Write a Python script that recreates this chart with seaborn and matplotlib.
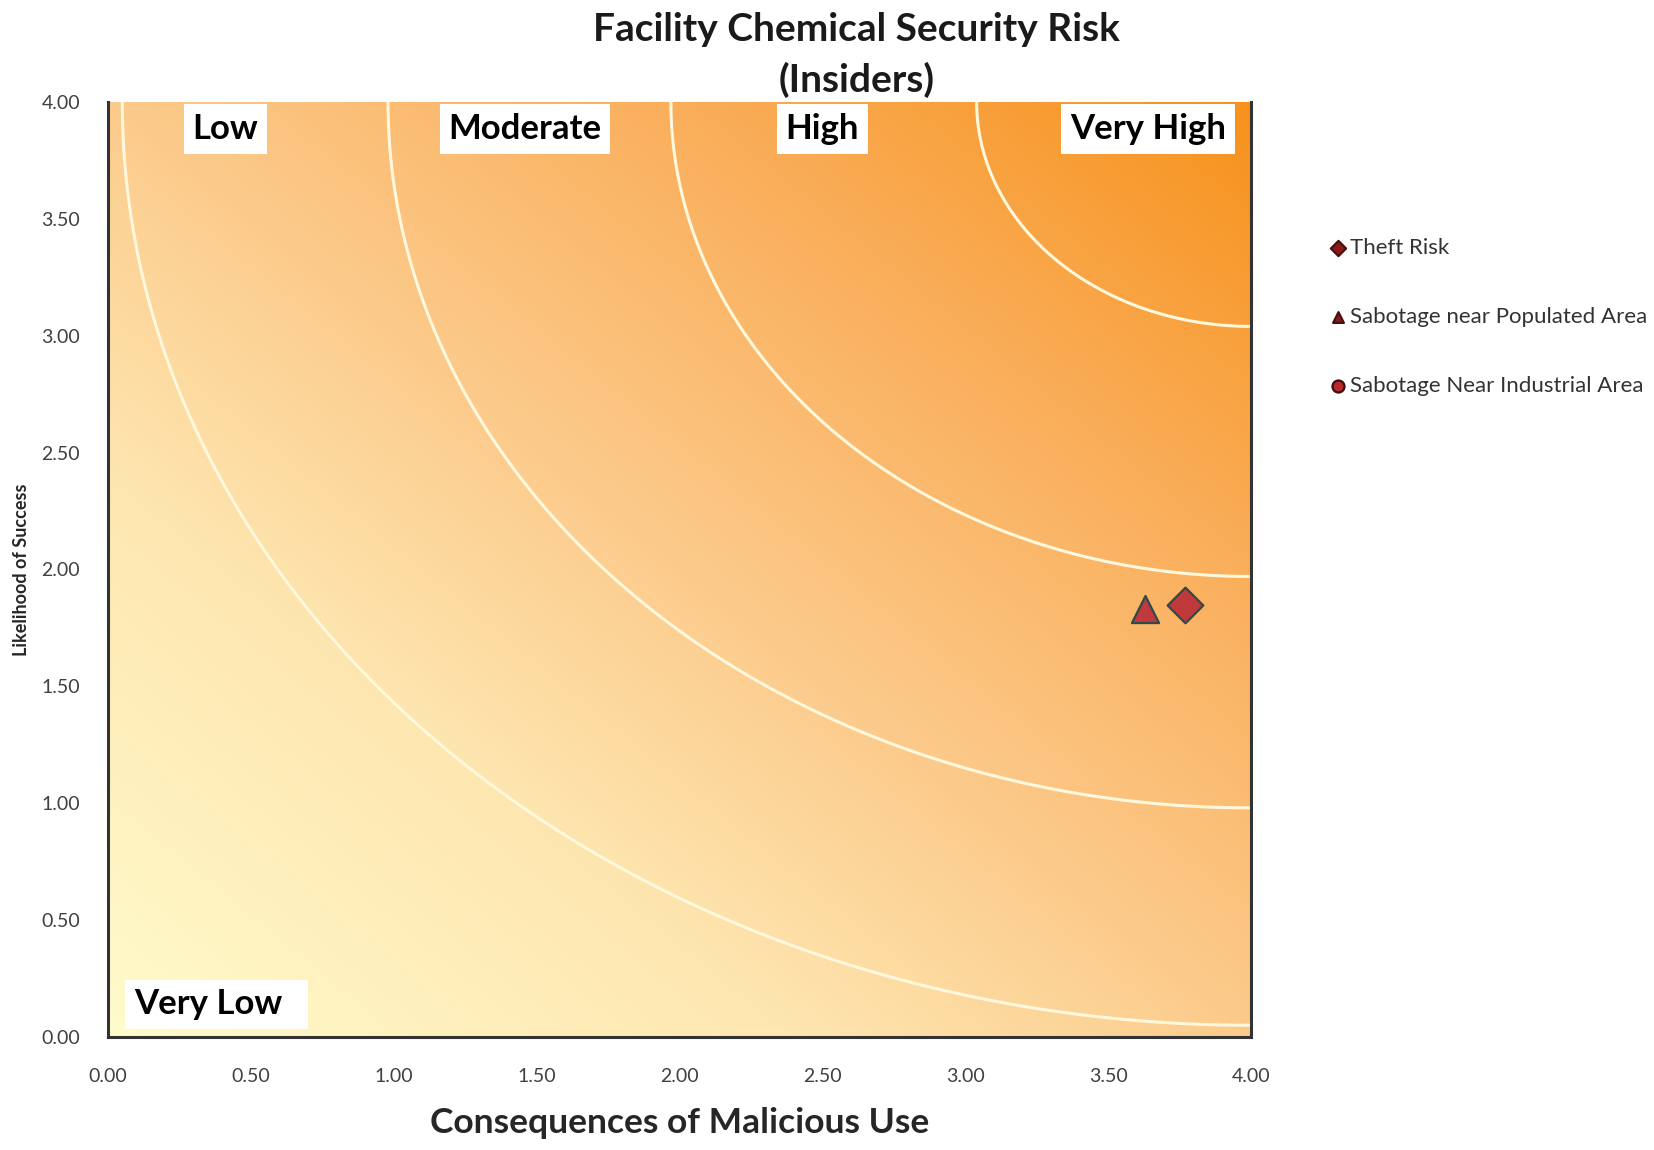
import numpy as np
import pandas as pd
import matplotlib
matplotlib.use("Agg")
import matplotlib.pyplot as plt
import seaborn as sns
from matplotlib.colors import LinearSegmentedColormap

sns.set_theme(style="white")
plt.rcParams['font.family'] = ['Lato', 'DejaVu Sans']

# ---------------- data ----------------
series = ['Theft Risk', 'Sabotage near Populated Area', 'Sabotage Near Industrial Area']
consequences = [3.77, 3.63, 3.77]
likelihood = [1.85, 1.83, 1.85]
series_markers = {'Theft Risk': 'D', 'Sabotage near Populated Area': '^',
                  'Sabotage Near Industrial Area': 'o'}

# risk band boundaries (distance from the 4,4 corner)
band_radii = [0.96, 2.03, 3.02, 3.95]
band_labels = ['Very High', 'High', 'Moderate', 'Low']
band_label_x = [3.64, 2.50, 1.46, 0.41]
ticks = [0.0, 0.5, 1.0, 1.5, 2.0, 2.5, 3.0, 3.5, 4.0]

df = pd.DataFrame({'series': series, 'consequences': consequences, 'likelihood': likelihood})

fig = plt.figure(figsize=(16.54, 11.5), dpi=100)
ax = fig.add_axes([0.0653, 0.0983, 0.6910, 0.8130])

# background gradient, pale yellow bottom-left to orange top-right
cmap = LinearSegmentedColormap.from_list(
    'risk', [(0.0, '#FFFBCB'), (0.3, '#FEE6B0'), (0.5, '#FCCB8C'),
             (0.75, '#FAAE5A'), (1.0, '#F7921C')])
g = np.linspace(0, 4, 400)
gx, gy = np.meshgrid(g, g)
ax.imshow((gx + gy) / 8, extent=[0, 4, 0, 4], origin='lower', cmap=cmap,
          aspect='auto', zorder=0, interpolation='bilinear')

# white arcs between risk bands
theta = np.linspace(np.pi, 1.5 * np.pi, 400)
for r in band_radii:
    ax.plot(4 + r * np.cos(theta), 4 + r * np.sin(theta), color='#FFF8DC', lw=2.2, zorder=1)

# points (Industrial Area sits under Theft Risk)
order = ['Sabotage Near Industrial Area', 'Sabotage near Populated Area', 'Theft Risk']
sizes = {'Theft Risk': 330, 'Sabotage near Populated Area': 380, 'Sabotage Near Industrial Area': 120}
for name in order:
    sub = df[df['series'] == name]
    sns.scatterplot(data=sub, x='consequences', y='likelihood', ax=ax,
                    marker=series_markers[name], s=sizes[name], color='#C0393B',
                    edgecolor='#2E4A4F', linewidth=1.6, label=name, zorder=3)

# band labels
box = dict(facecolor='white', edgecolor='none', boxstyle='square,pad=0.25')
for lab, lx in zip(band_labels, band_label_x):
    ax.text(lx, 3.885, lab, ha='center', va='center', fontsize=25, fontweight='bold',
            color='black', bbox=box, zorder=4)
ax.text(0.09, 0.14, 'Very Low  ', ha='left', va='center', fontsize=25, fontweight='bold',
        color='black', bbox=box, zorder=4)

ax.set_xlim(0, 4)
ax.set_ylim(0, 4)
ax.set_xticks(ticks)
ax.set_yticks(ticks)
ax.set_xticklabels([f'{t:.2f}' for t in ticks], fontsize=14, color='#404040')
ax.set_yticklabels([f'{t:.2f}' for t in ticks], fontsize=14, color='#404040')
ax.tick_params(axis='x', pad=22, length=0)
ax.tick_params(axis='y', pad=20, length=0)

ax.set_xlabel('Consequences of Malicious Use', fontsize=25.5, fontweight='bold', labelpad=16)
ax.set_ylabel('Likelihood of Success', fontsize=13, fontweight='bold', labelpad=8)

for side in ['left', 'bottom', 'right']:
    ax.spines[side].set_color('#333333')
    ax.spines[side].set_linewidth(2.2)
ax.spines['top'].set_visible(False)

fig.text(0.518, 0.952, 'Facility Chemical Security Risk\n(Insiders)', ha='center', va='center',
         fontsize=28, fontweight='bold', color='#1a1a1a', linespacing=1.5)

handles, labels = ax.get_legend_handles_labels()
lookup = dict(zip(labels, handles))
leg = ax.legend([lookup[s] for s in series], series, loc='upper left',
                bbox_to_anchor=(1.05, 0.876), frameon=False,
                fontsize=16, handletextpad=0.1, labelspacing=2.2, handlelength=0.9)
for t in leg.get_texts():
    t.set_color('#333333')
for h, s in zip(leg.legend_handles, series):
    h.set_sizes([75 if s == 'Sabotage Near Industrial Area' else 60])
    if s == 'Sabotage Near Industrial Area':
        h.set_facecolor('#B8292B')
        h.set_edgecolor('#3A1010')
    else:
        h.set_facecolor('#8B1A1A')
        h.set_edgecolor('#4A1010')

fig.savefig('out.png', dpi=100)
